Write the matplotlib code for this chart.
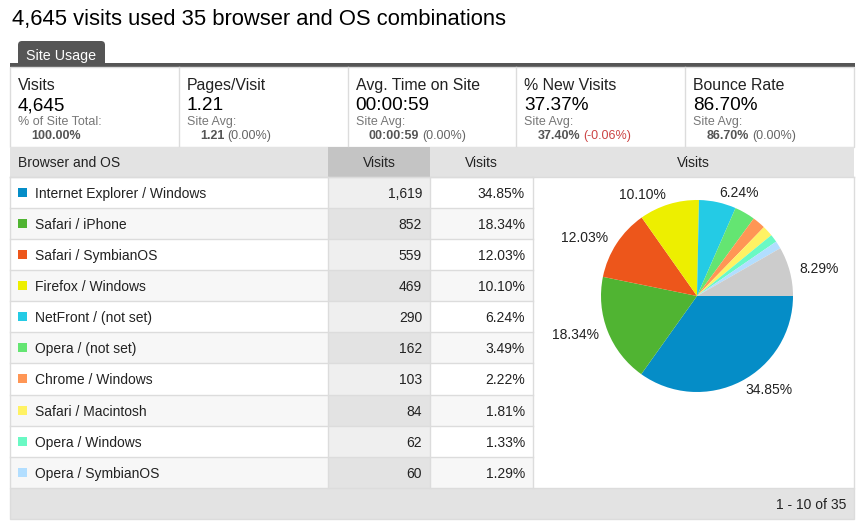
import matplotlib.pyplot as plt
from matplotlib.patches import Rectangle, FancyBboxPatch

plt.rcParams['font.family'] = ['Liberation Sans', 'DejaVu Sans']

# Data
total_visits = 4645
combos = ["Internet Explorer / Windows", "Safari / iPhone", "Safari / SymbianOS",
          "Firefox / Windows", "NetFront / (not set)", "Opera / (not set)",
          "Chrome / Windows", "Safari / Macintosh", "Opera / Windows", "Opera / SymbianOS"]
visits = [1619, 852, 559, 469, 290, 162, 103, 84, 62, 60]
colors = ["#058dc7", "#50b432", "#ed561b", "#edef00", "#24cbe5",
          "#64e572", "#ff9655", "#fff263", "#6af9c4", "#b2deff"]
other_color = "#cccccc"

metric_names = ["Visits", "Pages/Visit", "Avg. Time on Site", "% New Visits", "Bounce Rate"]
metric_values = ["4,645", "1.21", "00:00:59", "37.37%", "86.70%"]
metric_sub = ["% of Site Total:", "Site Avg:", "Site Avg:", "Site Avg:", "Site Avg:"]
metric_avg = ["100.00%", "1.21", "00:00:59", "37.40%", "86.70%"]
metric_diff = ["", "(0.00%)", "(0.00%)", "(-0.06%)", "(0.00%)"]

W, H = 865, 530
fig = plt.figure(figsize=(W / 100, H / 100), dpi=100)
ax = fig.add_axes([0, 0, 1, 1])
ax.set_xlim(0, W)
ax.set_ylim(H, 0)
ax.axis('off')

border = "#dcdcdc"
dy = 1.5  # nudge text down so caps sit centred like the browser rendering

# title
ax.text(12, 18 + dy, "4,645 visits used 35 browser and OS combinations", fontsize=15.8,
        va='center', ha='left', color='#000000')

# tab
ax.add_patch(FancyBboxPatch((18, 41), 87, 26, boxstyle="round,pad=0,rounding_size=4",
                            fc="#555555", ec="none"))
ax.text(61.5, 54.5 + dy, "Site Usage", fontsize=10.3, color='white', ha='center', va='center')
ax.add_patch(Rectangle((10, 63), 845, 3.5, fc="#555555", ec="none"))

# metric strip
left, right = 10, 854
ax.add_patch(Rectangle((left, 66.5), right - left, 80, fc='white', ec=border, lw=1))
col_w = (right - left) / 5
for i in range(5):
    x0 = left + col_w * i
    if i > 0:
        ax.plot([x0, x0], [66.5, 146], color=border, lw=1)
    ax.text(x0 + 8, 84 + dy, metric_names[i], fontsize=11.4, va='center', color='#222222')
    ax.text(x0 + 8, 104.5 + dy, metric_values[i], fontsize=13.7, va='center', color='#000000')
    ax.text(x0 + 8, 120.5 + dy, metric_sub[i], fontsize=9, va='center', color='#777777')
    t = ax.text(x0 + 21, 134.5 + dy, metric_avg[i], fontsize=9, va='center', color='#555555',
                fontweight='bold')
    if metric_diff[i]:
        dcol = '#cc4444' if metric_diff[i].startswith('(-') else '#666666'
        ax.annotate(metric_diff[i], xy=(1, 0.5), xycoords=t, xytext=(2.5, 0),
                    textcoords='offset points', fontsize=9, va='center', color=dcol)

# table
top, head_h = 146.5, 30
row_h = 31.15
n = len(visits)
table_bottom = top + head_h + row_h * n
c1, c2, c3 = 328, 430, 533

ax.add_patch(Rectangle((left, top), right - left, head_h, fc="#e3e3e3", ec="none"))
ax.add_patch(Rectangle((c1, top), c2 - c1, head_h, fc="#c4c4c4", ec="none"))
hy = top + head_h / 2 + dy
ax.text(18, hy, "Browser and OS", fontsize=10, va='center', color='#222222')
ax.text((c1 + c2) / 2, hy, "Visits", fontsize=10, va='center', ha='center', color='#222222')
ax.text((c2 + c3) / 2, hy, "Visits", fontsize=10, va='center', ha='center', color='#222222')
ax.text((c3 + right) / 2, hy, "Visits", fontsize=10, va='center', ha='center', color='#222222')

for i in range(n):
    y0 = top + head_h + row_h * i
    even = i % 2 == 1
    ax.add_patch(Rectangle((left, y0), c1 - left, row_h, fc="#f7f7f7" if even else "white", ec='none'))
    ax.add_patch(Rectangle((c1, y0), c2 - c1, row_h, fc="#e3e3e3" if even else "#efefef", ec='none'))
    ax.add_patch(Rectangle((c2, y0), c3 - c2, row_h, fc="#f7f7f7" if even else "white", ec='none'))
    ax.plot([left, c3], [y0, y0], color=border, lw=1)
    yc = y0 + row_h / 2
    ax.add_patch(Rectangle((18, yc - 4.5), 9, 9, fc=colors[i], ec='none'))
    ax.text(35, yc + dy, combos[i], fontsize=10, va='center', color='#222222')
    ax.text(422, yc + dy, f"{visits[i]:,}", fontsize=10, va='center', ha='right', color='#222222')
    ax.text(525, yc + dy, f"{visits[i] / total_visits * 100:.2f}%", fontsize=10, va='center',
            ha='right', color='#222222')

for xv in [left, c1, c2, c3, right]:
    ax.plot([xv, xv], [top + head_h, table_bottom], color=border, lw=1)
ax.plot([left, right], [top + head_h, top + head_h], color=border, lw=1)

# footer
ax.add_patch(Rectangle((left, table_bottom), right - left, 31, fc="#e3e3e3", ec=border, lw=1))
ax.text(846, table_bottom + 15.5 + dy, "1 - 10 of 35", fontsize=10, va='center', ha='right', color='#222222')

# pie
other = total_visits - sum(visits)
pie_vals = visits + [other]
pie_cols = colors + [other_color]
pie_labels = [f"{v / total_visits * 100:.2f}%" if v / total_visits >= 0.05 else "" for v in pie_vals]
cx, cy, half = 697, 296, 120
pax = fig.add_axes([(cx - half) / W, (H - cy - half) / H, 2 * half / W, 2 * half / H])
pax.pie(pie_vals, colors=pie_cols, startangle=0, counterclock=False, labels=pie_labels,
        labeldistance=1.1, textprops={'fontsize': 10, 'color': '#222222'},
        wedgeprops={'linewidth': 0})
pax.set_xlim(-1.25, 1.25)
pax.set_ylim(-1.25, 1.25)
pax.set_aspect('equal')
pax.axis('off')

fig.savefig("out.png", dpi=100)
